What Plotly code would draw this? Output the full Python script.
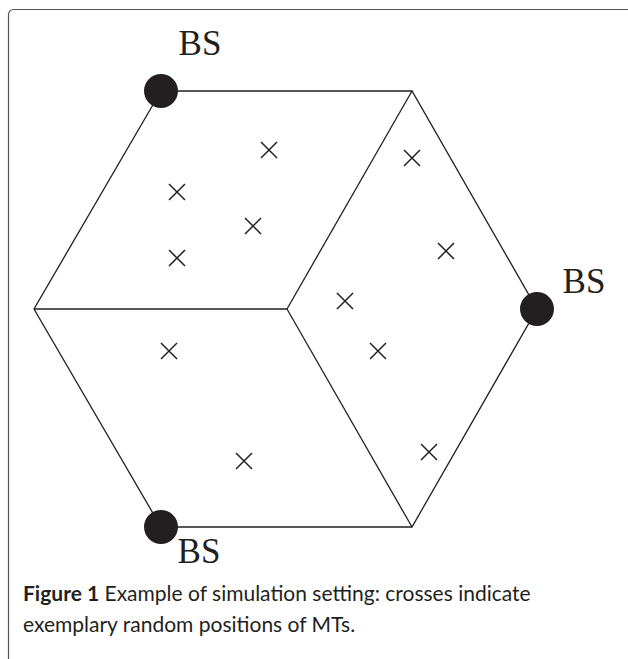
'''
    Hexagonal simulation setting: three BS at alternate corners,
    MT positions drawn as crosses.
'''

import plotly.graph_objects as go

W, H = 628, 659
INK = '#231f20'

# hexagon corners (picture coordinates, y downwards)
hex_x = [161, 412, 537, 412, 161, 34, 161]
hex_y = [91, 91, 309, 527, 527, 309, 91]

# inner edges from the centre to three corners
center = (287, 309)
inner_ends_x = [34, 412, 412]
inner_ends_y = [309, 91, 527]

# base stations
bs_x = [161, 537, 161]
bs_y = [91, 309, 527]
bs_label_x = [200, 584, 199]
bs_label_y = [46, 284, 554]

# mobile terminals
mt_x = [269, 177, 253, 177, 412, 446, 345, 378, 429, 169, 244]
mt_y = [150, 192, 226, 258, 158, 251, 301, 351, 452, 351, 461]

caption_line1 = '<b>Figure 1</b> Example of simulation setting: crosses indicate'
caption_line2 = 'exemplary random positions of MTs.'


def inner_lines():
    xs, ys = [], []
    for ex, ey in zip(inner_ends_x, inner_ends_y):
        xs += [center[0], ex, None]
        ys += [center[1], ey, None]
    return xs, ys


fig = go.Figure()

fig.add_trace(go.Scatter(x=hex_x, y=hex_y, mode='lines',
                         line=dict(color=INK, width=1.3),
                         hoverinfo='skip'))

ix, iy = inner_lines()
fig.add_trace(go.Scatter(x=ix, y=iy, mode='lines',
                         line=dict(color=INK, width=1.3),
                         hoverinfo='skip'))

fig.add_trace(go.Scatter(x=mt_x, y=mt_y, mode='markers',
                         marker=dict(symbol='x-thin', size=16,
                                     line=dict(color=INK, width=1.5))))

fig.add_trace(go.Scatter(x=bs_x, y=bs_y, mode='markers',
                         marker=dict(size=34, color=INK)))

fig.add_trace(go.Scatter(x=bs_label_x, y=bs_label_y, mode='text',
                         text=['BS'] * 3,
                         textfont=dict(family='Liberation Serif', size=35,
                                       color=INK)))

# frame around the figure (left and top edge, rounded corner)
fig.add_shape(type='path',
              path='M 8.5 659 L 8.5 15 Q 8.5 9.5 14 9.5 L 628 9.5',
              line=dict(color='#555555', width=1.2))

for txt, yy in [(caption_line1, 592), (caption_line2, 623)]:
    fig.add_annotation(x=21, y=yy, xanchor='left', yanchor='middle',
                       showarrow=False, align='left', text=txt,
                       font=dict(family='Lato', size=21, color=INK))

fig.update_xaxes(range=[0, W], visible=False)
fig.update_yaxes(range=[H, 0], visible=False)

fig.update_layout(
    width=W, height=H,
    margin=dict(l=0, r=0, t=0, b=0),
    plot_bgcolor='white', paper_bgcolor='white',
    showlegend=False,
    dragmode=False,
)

fig.write_html('out.html', config={'displayModeBar': False},
               post_script="document.body.style.margin='0';")
